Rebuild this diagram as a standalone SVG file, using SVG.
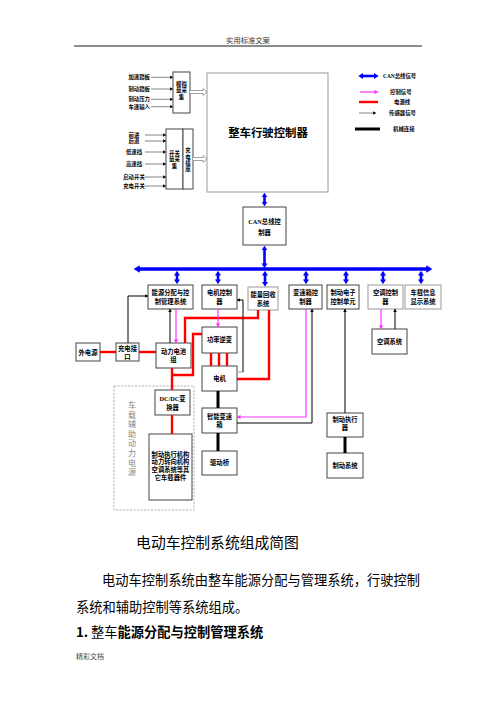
<svg xmlns="http://www.w3.org/2000/svg" width="496" height="702" viewBox="0 0 496 702">
<style>
.b{fill:#fff;stroke:#444;stroke-width:1}
.bg{fill:#fff;stroke:#999;stroke-width:1}
.t{font-family:"Liberation Serif","Noto Sans CJK SC",serif;font-weight:bold;font-size:6.3px;text-anchor:middle;fill:#000}
.ts{font-family:"Liberation Serif","Noto Sans CJK SC",serif;font-weight:bold;font-size:5.4px;fill:#000}
.can{stroke:#0000ff;stroke-width:2.6;fill:none;marker-start:url(#cb);marker-end:url(#cb)}
.red{stroke:#ff0000;stroke-width:2.4;fill:none}
.pk{stroke:#ff33ff;stroke-width:1.2;fill:none;marker-end:url(#pa)}
.bk{stroke:#000;stroke-width:1;fill:none;marker-end:url(#ka)}
.sn{stroke:#666;stroke-width:0.8;fill:none;marker-end:url(#ka)}
.mech{stroke:#000;stroke-width:3;fill:none}
.hol{stroke:#888;stroke-width:0.8;fill:#fff}
.doc{font-family:"Noto Sans CJK SC","Liberation Sans",sans-serif;fill:#000}
</style>
<defs>
<marker id="cb" viewBox="0 0 8 10" refX="1" refY="5" markerUnits="userSpaceOnUse" markerWidth="4.8" markerHeight="6.4" orient="auto-start-reverse"><path d="M0,0 L8,5 L0,10 z" fill="#0000ff"/></marker>
<marker id="cbl" viewBox="0 0 8 10" refX="1" refY="5" markerUnits="userSpaceOnUse" markerWidth="6" markerHeight="8" orient="auto-start-reverse"><path d="M0,0 L8,5 L0,10 z" fill="#0000ff"/></marker>
<marker id="pa" viewBox="0 0 8 10" refX="8" refY="5" markerUnits="userSpaceOnUse" markerWidth="4" markerHeight="4.4" orient="auto"><path d="M0,0 L8,5 L0,10 z" fill="#ff33ff"/></marker>
<marker id="ka" viewBox="0 0 8 10" refX="8" refY="5" markerUnits="userSpaceOnUse" markerWidth="3.6" markerHeight="3.6" orient="auto"><path d="M0,0 L8,5 L0,10 z" fill="#000"/></marker>
</defs>
<rect width="496" height="702" fill="#fff"/>

<!-- page header -->
<text x="248" y="42.5" font-family="Noto Sans CJK SC,sans-serif" font-size="7.3" fill="#333" text-anchor="middle">实用标准文案</text>
<line x1="74" y1="46" x2="422" y2="46" stroke="#000" stroke-width="0.9"/>

<!-- input labels -->
<g id="inputs-analog">
<text class="ts" x="150" y="79.3" text-anchor="end">加速踏板</text>
<text class="ts" x="150" y="91" text-anchor="end">制动踏板</text>
<text class="ts" x="150" y="101.3" text-anchor="end">制动压力</text>
<text class="ts" x="150" y="108.7" text-anchor="end">车速输入</text>
</g>
<g id="inputs-switch">
<text class="ts" x="134" y="137" text-anchor="middle">前进</text>
<text class="ts" x="134" y="143" text-anchor="middle">后退</text>
<text class="ts" x="134" y="154" text-anchor="middle">低速挡</text>
<text class="ts" x="134" y="166" text-anchor="middle">高速挡</text>
<text class="ts" x="134" y="179" text-anchor="middle">启动开关</text>
<text class="ts" x="134" y="188" text-anchor="middle">充电开关</text>
</g>

<g id="analog-acq">
<rect class="b" x="173" y="72" width="17" height="41"/>
<text class="ts" x="181.5" y="86" text-anchor="middle">模拟</text>
<text class="ts" x="181.5" y="92" text-anchor="middle">量采</text>
<text class="ts" x="181.5" y="99" text-anchor="middle">集</text>
</g>
<g id="switch-acq">
<rect class="b" x="166" y="129" width="17" height="60"/>
<text class="ts" x="174.5" y="155" text-anchor="middle">开关</text>
<text class="ts" x="174.5" y="161" text-anchor="middle">量采</text>
<text class="ts" x="174.5" y="167.5" text-anchor="middle">集</text>
</g>
<g id="charge-socket">
<rect class="b" x="183" y="129" width="10" height="60"/>
<text class="ts" x="188" y="152" text-anchor="middle">充</text>
<text class="ts" x="188" y="159" text-anchor="middle">电</text>
<text class="ts" x="188" y="165" text-anchor="middle">插</text>
<text class="ts" x="188" y="171" text-anchor="middle">座</text>
</g>
<g id="vcu">
<rect class="bg" x="207" y="73" width="121" height="119"/>
<text x="268" y="137" font-family="Noto Sans CJK SC,sans-serif" font-weight="bold" font-size="11.4" text-anchor="middle">整车行驶控制器</text>
</g>

<g id="legend">
<line class="can" x1="362.5" y1="76" x2="374.5" y2="76"/>
<text class="ts" x="383" y="78">CAN总线信号</text>
<line class="pk" x1="360" y1="92" x2="378" y2="92"/>
<text class="ts" x="390" y="94.3">控制信号</text>
<line class="red" x1="359" y1="102" x2="378" y2="102"/>
<text class="ts" x="394" y="103.5">电源线</text>
<line class="sn" x1="359" y1="113" x2="376" y2="113" stroke="#aaa" stroke-width="1.4"/>
<text class="ts" x="389" y="115">传感器信号</text>
<line class="mech" x1="355" y1="129" x2="380" y2="129" stroke-width="2.6"/>
<text class="ts" x="393" y="131">机械连接</text>
</g>

<g id="can-ctrl">
<rect class="b" x="243" y="207" width="43" height="38"/>
<text class="t" x="264.5" y="224" font-size="7.5">CAN总线控</text>
<text class="t" x="264.5" y="235" font-size="7.5">制器</text>
</g>

<g id="energy-mgmt"><rect class="b" x="148" y="285" width="45" height="24"/>
<text class="t" x="170.5" y="295.2">能源分配与控</text><text class="t" x="170.5" y="304.2">制管理系统</text></g>
<g id="motor-ctrl"><rect class="b" x="202" y="285" width="35" height="24"/>
<text class="t" x="219.5" y="295.2">电机控制</text><text class="t" x="219.5" y="304.2">器</text></g>
<g id="regen"><rect class="bg" x="248" y="287" width="30" height="23"/>
<text class="t" x="263" y="297">能量回收</text><text class="t" x="263" y="306">系统</text></g>
<g id="gearbox-ctrl"><rect class="b" x="289" y="285" width="33" height="24"/>
<text class="t" x="305.5" y="295.2">变速箱控</text><text class="t" x="305.5" y="304.2">制器</text></g>
<g id="brake-ecu"><rect class="b" x="327" y="285" width="32" height="24"/>
<text class="t" x="343" y="295.2">制动电子</text><text class="t" x="343" y="304.2">控制单元</text></g>
<g id="ac-ctrl"><rect class="bg" x="368" y="285" width="35" height="24"/>
<text class="t" x="385.5" y="295.2">空调控制</text><text class="t" x="385.5" y="304.2">器</text></g>
<g id="info-display"><rect class="bg" x="405" y="285" width="36" height="24"/>
<text class="t" x="423" y="295.2">车载信息</text><text class="t" x="423" y="304.2">显示系统</text></g>

<g id="ext-power"><rect class="b" x="76" y="343" width="24" height="18"/>
<text class="t" x="88" y="354.5">外电源</text></g>
<g id="charge-port"><rect class="b" x="116" y="343" width="23" height="18"/>
<text class="t" x="127.5" y="351">充电接</text><text class="t" x="127.5" y="358.5">口</text></g>
<g id="battery"><rect class="b" x="156" y="343" width="35" height="25"/>
<text class="t" x="173.5" y="354">动力电池</text><text class="t" x="173.5" y="361.5">组</text></g>
<g id="inverter"><rect class="b" x="202" y="327" width="35" height="26"/>
<text class="t" x="219.5" y="342.2">功率逆变</text></g>
<g id="motor"><rect class="b" x="202" y="366" width="35" height="25"/>
<text class="t" x="219.5" y="380.7">电机</text></g>
<g id="ac-system"><rect class="b" x="372" y="329" width="35" height="25"/>
<text class="t" x="389.5" y="344.2">空调系统</text></g>
<g id="dcdc"><rect class="b" x="155" y="390" width="35" height="25"/>
<text class="t" x="172.5" y="400.5">DC/DC变</text><text class="t" x="172.5" y="410">换器</text></g>
<g id="smart-gearbox"><rect class="b" x="202" y="408" width="35" height="25"/>
<text class="t" x="219.5" y="418.5">智能变速</text><text class="t" x="219.5" y="426.5">箱</text></g>
<g id="drive-axle"><rect class="b" x="202" y="451" width="35" height="24"/>
<text class="t" x="219.5" y="465.2">驱动桥</text></g>
<g id="brake-actuator"><rect class="b" x="327" y="413" width="36" height="24"/>
<text class="t" x="345" y="422.2">制动执行</text><text class="t" x="345" y="430.2">器</text></g>
<g id="brake-system"><rect class="b" x="327" y="453" width="36" height="25"/>
<text class="t" x="345" y="467.7">制动系统</text></g>

<g id="aux-power">
<rect x="114" y="386" width="80" height="124" fill="none" stroke="#999" stroke-width="0.8" stroke-dasharray="2,1.5"/>
<g font-family="Noto Sans CJK SC,sans-serif" font-size="8" fill="#888" text-anchor="middle">
<text x="132" y="408">车</text><text x="132" y="417.6">载</text><text x="132" y="427.2">辅</text><text x="132" y="436.8">助</text><text x="132" y="446.4">动</text><text x="132" y="456">力</text><text x="132" y="465.6">电</text><text x="132" y="475.2">源</text>
</g>
</g>
<g id="aux-loads"><rect class="b" x="149" y="434" width="43" height="66"/>
<text class="t" x="170.5" y="456.5">制动执行机构</text>
<text class="t" x="170.5" y="464">动力转向机构</text>
<text class="t" x="170.5" y="471.5">空调系统等其</text>
<text class="t" x="170.5" y="479.5">它车载器件</text></g>

<g id="connectors">
<!-- input signal arrows -->
<line class="sn" x1="151" y1="77.3" x2="173" y2="77.3" stroke="#999"/>
<line class="sn" x1="151" y1="89" x2="173" y2="89"/>
<line class="sn" x1="151" y1="99.3" x2="173" y2="99.3"/>
<line class="sn" x1="151" y1="106.7" x2="173" y2="106.7" stroke="#999"/>
<line class="sn" x1="145" y1="135" x2="166" y2="135"/>
<line class="sn" x1="145" y1="141" x2="166" y2="141"/>
<line class="sn" x1="145" y1="152" x2="166" y2="152"/>
<line class="sn" x1="145" y1="164" x2="166" y2="164" stroke="#999"/>
<line class="sn" x1="145" y1="177" x2="166" y2="177"/>
<line class="sn" x1="145" y1="186" x2="166" y2="186"/>
<!-- hollow arrows into VCU -->
<path class="hol" d="M190,90.5 H203 V88.5 L207,92 L203,95.5 V93.5 H190"/>
<path class="hol" d="M193,157.5 H203 V155.5 L207,159 L203,162.5 V160.5 H193"/>
<!-- CAN -->
<line class="can" x1="264.5" y1="196.8" x2="264.5" y2="202.2"/>
<line class="can" x1="264.5" y1="249.8" x2="264.5" y2="264"/>
<line stroke="#0000ff" stroke-width="3.4" marker-start="url(#cbl)" marker-end="url(#cbl)" x1="139" y1="269" x2="427" y2="269"/>
<line class="can" x1="177" y1="275" x2="177" y2="280"/>
<line class="can" x1="218" y1="275" x2="218" y2="280"/>
<line class="can" x1="265" y1="275" x2="265" y2="282.5"/>
<line class="can" x1="306" y1="275" x2="306" y2="280"/>
<line class="can" x1="346" y1="275" x2="346" y2="280"/>
<line class="can" x1="383" y1="275" x2="383" y2="280"/>
<line class="can" x1="421" y1="275" x2="421" y2="280"/>
<!-- power lines -->
<line class="red" x1="100" y1="352" x2="116" y2="352"/>
<line class="red" x1="139" y1="352" x2="156" y2="352"/>
<polyline class="red" points="258,310 258,318 185,318 185,343"/>
<line class="red" x1="172" y1="368" x2="172" y2="390"/>
<polyline class="red" points="172,375 193,375 193,334 202,334"/>
<polyline class="red" points="269,310 269,379 237,379"/>
<line class="red" x1="211" y1="353" x2="211" y2="366"/>
<line class="red" x1="219" y1="353" x2="219" y2="366"/>
<line class="red" x1="227" y1="353" x2="227" y2="366"/>
<line class="red" x1="172" y1="415" x2="172" y2="434"/>
<!-- control / sensor -->
<polyline class="bk" points="128,343 128,296 148,296"/>
<line class="bk" x1="170" y1="343" x2="170" y2="309"/>
<line class="pk" x1="176" y1="309" x2="176" y2="343"/>
<line class="pk" x1="218" y1="309" x2="218" y2="327"/>
<line x1="237" y1="372" x2="243" y2="372" stroke="#999" stroke-width="1"/>
<polyline class="bk" points="243,372 243,300 237,300"/>
<polyline class="pk" points="306,309 306,417 237,417"/>
<polyline class="bk" points="237,423 312,423 312,309"/>
<line class="bk" x1="345" y1="413" x2="345" y2="309"/>
<line class="pk" x1="381" y1="309" x2="381" y2="329"/>
<line class="bk" x1="395" y1="329" x2="395" y2="309"/>
<!-- mechanical -->
<line class="mech" x1="218" y1="391" x2="218" y2="408"/>
<line class="mech" x1="218" y1="433" x2="218" y2="451"/>
<line class="mech" x1="345" y1="437" x2="345" y2="453"/>
</g>

<!-- document text -->
<text class="doc" x="217.5" y="547.5" font-size="14.8" text-anchor="middle">电动车控制系统组成简图</text>
<text class="doc" x="102" y="585" font-size="13.25">电动车控制系统由整车能源分配与管理系统，行驶控制</text>
<text class="doc" x="76" y="612" font-size="13.25">系统和辅助控制等系统组成。</text>
<text class="doc" x="76" y="637" font-size="13.25"><tspan font-weight="bold">1.</tspan> 整车<tspan font-weight="bold">能源分配与控制管理系统</tspan></text>
<text x="76" y="658.5" font-family="Noto Sans CJK SC,sans-serif" font-size="7" fill="#444">精彩文档</text>
</svg>
